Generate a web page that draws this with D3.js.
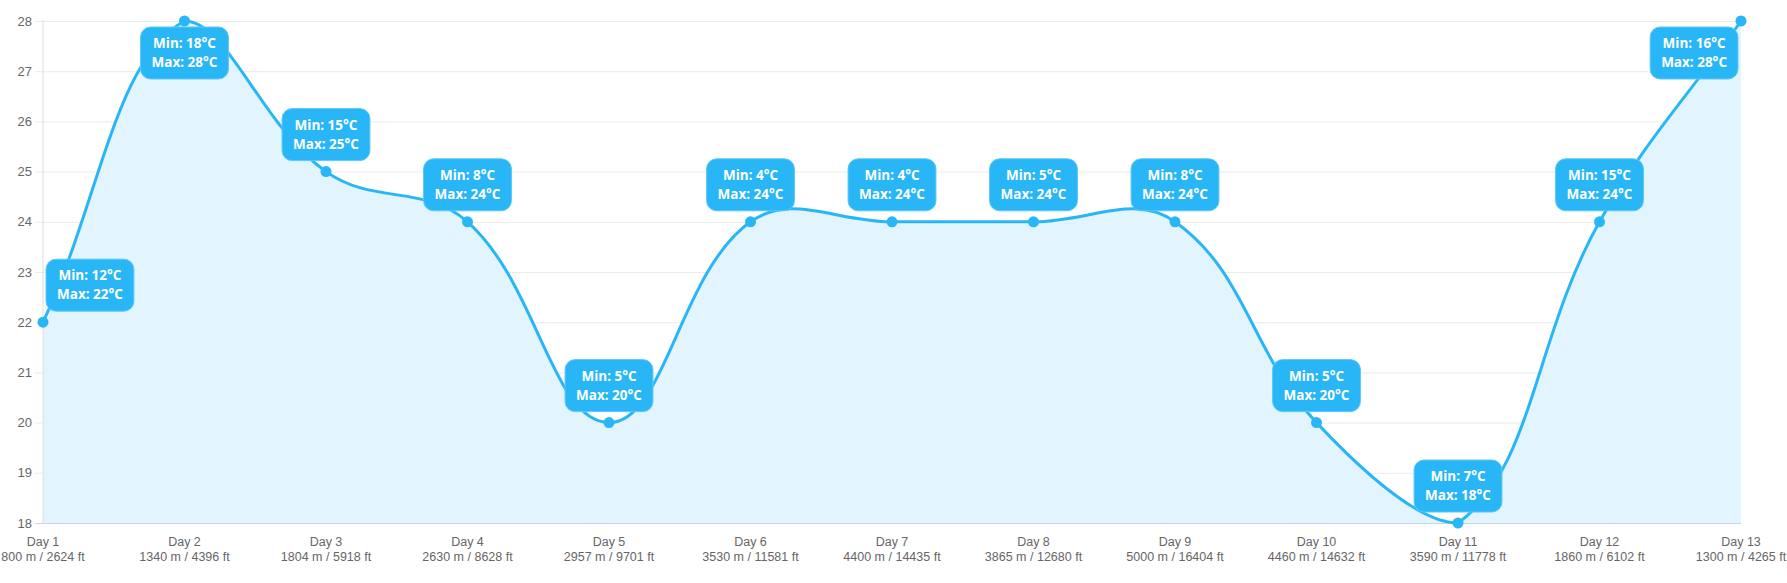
<!DOCTYPE html>
<html>
<head>
<meta charset="utf-8">
<script src="https://cdn.jsdelivr.net/npm/d3@7"></script>
<style>
  html, body { margin: 0; padding: 0; background: #fff; }
  svg { display: block; }
</style>
</head>
<body>
<svg id="chart" width="1787" height="583"></svg>
<script>
const days = ["Day 1","Day 2","Day 3","Day 4","Day 5","Day 6","Day 7","Day 8","Day 9","Day 10","Day 11","Day 12","Day 13"];
const altitudes = ["800 m / 2624 ft","1340 m / 4396 ft","1804 m / 5918 ft","2630 m / 8628 ft","2957 m / 9701 ft","3530 m / 11581 ft","4400 m / 14435 ft","3865 m / 12680 ft","5000 m / 16404 ft","4460 m / 14632 ft","3590 m / 11778 ft","1860 m / 6102 ft","1300 m / 4265 ft"];
const maxTemps = [22, 28, 25, 24, 20, 24, 24, 24, 24, 20, 18, 24, 28];
const minTemps = [12, 18, 15, 8, 5, 4, 4, 5, 8, 5, 7, 15, 16];
const yTicks = [18, 19, 20, 21, 22, 23, 24, 25, 26, 27, 28];

const W = 1787, H = 583;
const plot = { left: 43, right: 1741, top: 21, bottom: 523 };
const lineColor = "#29b6f6";
const svg = d3.select("#chart");

const x = d3.scalePoint().domain(days).range([plot.left, plot.right]);
const y = d3.scaleLinear().domain([18, 28]).range([plot.bottom, plot.top]);

// grid
const yAxis = d3.axisLeft(y).tickValues(yTicks).tickSize(plot.right - plot.left + 8).tickPadding(3).tickFormat(d3.format("d"));
const gy = svg.append("g").attr("transform", `translate(${plot.right},0)`).call(yAxis);
gy.select(".domain").remove();
gy.selectAll(".tick line").attr("stroke", "#ebebeb").attr("stroke-width", 1);
gy.selectAll(".tick text").attr("fill", "#666").attr("font-family", "Liberation Sans, Arial, sans-serif").attr("font-size", 13);

// data points in pixel space
const pts = days.map((d, i) => ({ x: x(d), y: y(maxTemps[i]), i }));

// Chart.js-like spline with tension 0.4 and capped bezier points
const t = 0.4;
const ctrl = pts.map((cur, i) => {
  const prev = pts[i - 1] || cur, next = pts[i + 1] || cur;
  const d01 = Math.hypot(cur.x - prev.x, cur.y - prev.y);
  const d12 = Math.hypot(next.x - cur.x, next.y - cur.y);
  let s01 = d01 / (d01 + d12), s12 = d12 / (d01 + d12);
  if (isNaN(s01)) s01 = 0; if (isNaN(s12)) s12 = 0;
  const fa = t * s01, fb = t * s12;
  const cap = p => ({ x: Math.max(plot.left, Math.min(plot.right, p.x)), y: Math.max(plot.top, Math.min(plot.bottom, p.y)) });
  return {
    cp1: cap({ x: cur.x - fa * (next.x - prev.x), y: cur.y - fa * (next.y - prev.y) }),
    cp2: cap({ x: cur.x + fb * (next.x - prev.x), y: cur.y + fb * (next.y - prev.y) })
  };
});
function linePath() {
  const p = d3.path();
  p.moveTo(pts[0].x, pts[0].y);
  for (let i = 1; i < pts.length; i++) {
    p.bezierCurveTo(ctrl[i - 1].cp2.x, ctrl[i - 1].cp2.y, ctrl[i].cp1.x, ctrl[i].cp1.y, pts[i].x, pts[i].y);
  }
  return p.toString();
}
const lp = linePath();
svg.append("path")
  .attr("d", lp + `L${pts[pts.length - 1].x},${plot.bottom}L${pts[0].x},${plot.bottom}Z`)
  .attr("fill", "#e2f4fd");

// axis lines
svg.append("line").attr("x1", plot.left).attr("x2", plot.left).attr("y1", plot.top - 1).attr("y2", plot.bottom)
  .attr("stroke", "#dedede").attr("stroke-width", 1);
svg.append("line").attr("x1", plot.left - 8).attr("x2", plot.right).attr("y1", plot.bottom + 0.5).attr("y2", plot.bottom + 0.5)
  .attr("stroke", "#ccd6e0").attr("stroke-width", 1.2);

svg.append("path").attr("d", lp).attr("fill", "none").attr("stroke", lineColor).attr("stroke-width", 3);

svg.selectAll("circle.pt").data(pts).join("circle")
  .attr("class", "pt").attr("cx", d => d.x).attr("cy", d => d.y).attr("r", 5.5).attr("fill", lineColor);

// x labels
const xl = svg.append("g").attr("font-family", "Liberation Sans, Arial, sans-serif").attr("font-size", 12.5).attr("fill", "#666").attr("text-anchor", "middle");
days.forEach((d, i) => {
  const tx = xl.append("text").attr("x", x(d)).attr("y", 546);
  tx.append("tspan").attr("x", x(d)).attr("y", 546).text(d);
  tx.append("tspan").attr("x", x(d)).attr("y", 561).text(altitudes[i]);
});

// data labels
const lg = svg.append("g");
pts.forEach((p, i) => {
  const g = lg.append("g");
  const t1 = g.append("text").attr("font-family", "Open Sans, Noto Sans, sans-serif").attr("font-weight", 700).attr("font-size", 13.5)
    .attr("fill", "#fff").attr("text-anchor", "middle");
  t1.append("tspan").text(`Min: ${minTemps[i]}°C`);
  const t2 = g.append("text").attr("font-family", "Open Sans, Noto Sans, sans-serif").attr("font-weight", 700).attr("font-size", 13.5)
    .attr("fill", "#fff").attr("text-anchor", "middle");
  t2.append("tspan").text(`Max: ${maxTemps[i]}°C`);
  const tw = Math.max(t1.node().getComputedTextLength(), t2.node().getComputedTextLength());
  const bw = tw + 22, bh = 52;
  let cx = p.x;
  let left = Math.max(plot.left + 3, Math.min(plot.right - 3 - bw, cx - bw / 2));
  let top = p.y - 11 - bh;
  if (top < 0) top = p.y + 6;
  g.insert("rect", "text").attr("x", left).attr("y", top).attr("width", bw).attr("height", bh)
    .attr("rx", 10).attr("fill", lineColor).attr("stroke", "#5cc8f8").attr("stroke-width", 1);
  const mx = left + bw / 2;
  t1.attr("x", mx).attr("y", top + 21); t1.select("tspan").attr("x", mx);
  t2.attr("x", mx).attr("y", top + 40); t2.select("tspan").attr("x", mx);
});
</script>
</body>
</html>
